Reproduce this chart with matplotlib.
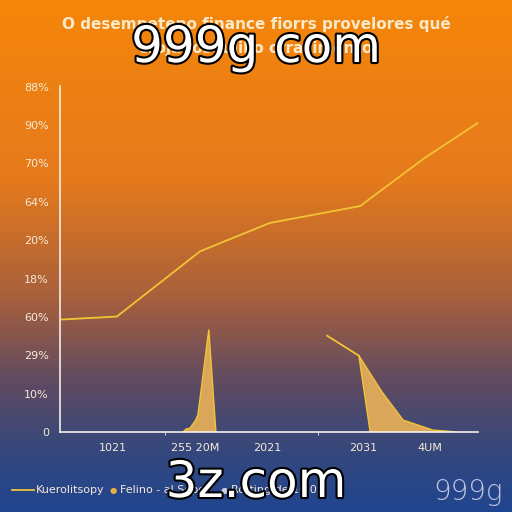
import numpy as np
import matplotlib
matplotlib.use("Agg")
import matplotlib.pyplot as plt
from matplotlib.colors import LinearSegmentedColormap
import matplotlib.patheffects as pe

# ---- data ----
title_text = "O desempeteno finance fiorrs provelores qué\ncrojadoseulilio crracimento"
y_tick_labels = ["0", "10%", "29%", "60%", "18%", "20%", "64%", "70%", "90%", "88%"]
x_tick_pos = [12.7, 32.3, 49.5, 72.5, 88.5]
x_tick_labels = ["1021", "255 20M", "2021", "2031", "4UM"]

main_x = [0, 13.6, 33.5, 50.2, 71.8, 87.3, 100]
main_y = [2.93, 3.01, 4.71, 5.45, 5.89, 7.15, 8.06]

spike1_x = [29.4, 30.2, 31.1, 32.4, 33.0, 35.6, 37.3]
spike1_y = [0.0, 0.08, 0.1, 0.3, 0.45, 2.67, 0.0]

spike2_line_x = [63.9, 71.5]
spike2_line_y = [2.51, 1.99]
spike2_x = [71.5, 77.0, 82.1, 89.2, 95.0, 74.2]
spike2_y = [1.99, 1.05, 0.31, 0.05, 0.0, 0.0]

legend_labels = ["Kuerolitsopy", "Felino - al Sepo", "Rotting de 10.0"]

# ---- figure ----
fig = plt.figure(figsize=(5.12, 5.12), dpi=100)

bg = fig.add_axes([0, 0, 1, 1])
cmap = LinearSegmentedColormap.from_list(
    "bg",
    [(0.0, "#F5860A"), (0.35, "#E57A1C"), (0.58, "#A8603C"),
     (0.75, "#5E4A62"), (0.87, "#38487A"), (1.0, "#1F4590")])
grad = np.linspace(0, 1, 256).reshape(-1, 1)
bg.imshow(grad, aspect="auto", cmap=cmap, extent=[0, 1, 0, 1], origin="upper")
bg.set_xlim(0, 1); bg.set_ylim(0, 1)
bg.axis("off")

ax = fig.add_axes([60/512, 1-432/512, (478-60)/512, (432-86)/512])
ax.patch.set_alpha(0)
ax.set_xlim(0, 100)
ax.set_ylim(0, 9.02)

line_col = "#F2C435"
fill_col = "#D9A65A"
ax.plot(main_x, main_y, color=line_col, lw=1.3)
ax.fill(spike1_x, spike1_y, color=fill_col, ec=line_col, lw=1.0)
ax.plot(spike2_line_x, spike2_line_y, color=line_col, lw=1.3)
ax.fill(spike2_x, spike2_y, color=fill_col, ec=line_col, lw=1.0)

for s in ["top", "right"]:
    ax.spines[s].set_visible(False)
for s in ["left", "bottom"]:
    ax.spines[s].set_color("#F3EEE8")
    ax.spines[s].set_linewidth(1.2)

txt_col = "#F6E9D8"
ax.set_yticks(range(len(y_tick_labels)))
ax.set_yticklabels(y_tick_labels, color=txt_col, fontsize=8)
ax.set_xticks(x_tick_pos)
ax.set_xticklabels(x_tick_labels, color=txt_col, fontsize=8)
ax.tick_params(axis="both", length=0, pad=8)
ax.set_xticks([25.1, 61.7], minor=True)
ax.tick_params(axis="x", which="minor", length=2, color="#F3EEE8")

fig.text(0.5, 1-36/512, title_text, ha="center", va="center",
         color="#FBE9C8", fontsize=11, fontweight="semibold", linespacing=1.7)

# legend row
fig.add_artist(plt.Line2D([12/512, 34/512], [1-490/512]*2, color=line_col, lw=1.3))
fig.text(36/512, 1-490/512, legend_labels[0], color=txt_col, fontsize=8, va="center")
fig.text(113/512, 1-490/512, "●", color="#E8B040", fontsize=6, va="center", ha="center")
fig.text(120/512, 1-490/512, legend_labels[1], color=txt_col, fontsize=8, va="center")
fig.text(224/512, 1-490/512, "●", color="#C8D0E0", fontsize=6, va="center", ha="center")
fig.text(231/512, 1-490/512, legend_labels[2], color=txt_col, fontsize=8, va="center")

# overlay texts
stroke = [pe.withStroke(linewidth=3, foreground="black")]
fig.text(0.5, 1-48/512, "999g com", ha="center", va="center", color="white",
         fontsize=36, path_effects=stroke)
fig.text(256/512, 1-483/512, "3z.com", ha="center", va="center", color="white",
         fontsize=36, path_effects=stroke)
fig.text(468/512, 1-492/512, "999g", ha="center", va="center", color="#C0C4DC",
         fontsize=20, fontweight="light")

fig.savefig("out.png", dpi=100)
